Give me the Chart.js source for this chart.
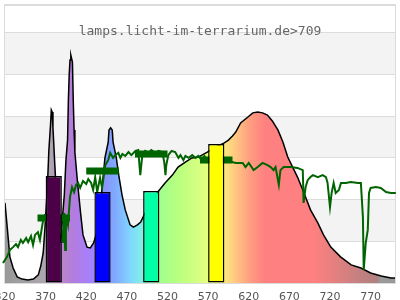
<!DOCTYPE html>
<html>
<head>
<meta charset="utf-8">
<script src="https://cdn.jsdelivr.net/npm/chart.js@4"></script>
<style>
  html, body { margin: 0; padding: 0; background: #fff; }
  canvas { display: block; }
</style>
</head>
<body>
<canvas id="chart" width="400" height="300"></canvas>
<script>
// --- lamp spectrum (black curve) ---
const specNm = [320, 326, 330, 335, 341, 348, 355, 361, 364, 367, 369, 372, 374, 376, 377, 378, 379, 381, 382,
  385, 388, 390, 393, 395, 397, 398, 399, 400, 401, 403, 404, 405, 406, 409, 413, 416, 421, 425, 429,
  434, 438, 443, 447, 448, 450, 452, 453, 457, 460, 464, 468, 474, 478, 483, 487, 493, 501, 509, 517,
  526, 533, 542, 550, 558, 569, 579, 590, 595, 600, 604, 610, 619, 625, 631, 637, 643, 649, 656, 662,
  668, 680, 688, 696, 705, 712, 721, 733, 746, 758, 770, 783, 795, 800];
const specVal = [28.8, 9.4, 5.4, 2.2, 1.4, 1.1, 1.4, 2.9, 6.1, 10.8, 19.1, 33.5, 47.8, 56.8, 62.2, 61.5, 56.1, 44.2, 38.8,
  19.1, 15.5, 20.9, 31.7, 44.2, 51.4, 65.8, 74.8, 80.2, 82.0, 79.5, 65.8, 55.0, 47.1, 37.0, 25.2, 17.3, 12.9, 12.6, 14.4,
  19.1, 29.9, 45.0, 50.7, 55.0, 55.8, 55.0, 50.7, 45.0, 38.8, 31.7, 26.3, 20.9, 20.1, 20.9, 21.9, 25.5, 29.9, 33.1, 36.0,
  38.8, 41.7, 43.5, 45.0, 45.3, 47.1, 48.9, 50.4, 51.4, 52.9, 54.3, 57.6, 59.7, 61.2, 61.5, 61.2, 60.4, 58.3, 55.0, 50.7,
  45.3, 38.1, 32.4, 26.3, 21.6, 17.3, 12.9, 9.4, 6.5, 5.4, 3.6, 2.5, 1.8, 1.8];

// --- daylight reference (green line) ---
const sunNm = [314, 317.5, 322.5, 326, 330, 333.5, 336, 339.5, 342, 346, 348.5, 352, 354.5, 357, 360.5, 363, 365.5, 367, 369,
  380, 388, 391.5, 393, 394, 395, 397.5, 400, 402.5, 405, 407.5, 410, 412.5, 416, 420, 422.5, 426, 428.5, 431, 433.5, 437,
  439.5, 443.5, 447, 449.5, 453, 455.5, 459.5, 462, 464.5, 468, 472, 475.5, 480.5, 484, 486.5, 489, 492.5, 496.5, 500,
  505, 509, 513.5, 516, 517.5, 518.5, 521, 525, 529.5, 533.5, 536, 539.5, 542, 546, 550.5, 554.5, 558, 562, 565.5, 569,
  590, 595, 604, 612.5, 616, 620, 626, 631, 637, 643, 647, 650.5, 653, 657, 659, 663, 671.5, 680, 686.5, 687.5, 690, 692.5,
  696, 699, 705, 711, 715, 717, 720, 722, 724.5, 727, 731, 733.5, 739.5, 745.5, 754.5, 758, 760.5, 761.5, 764, 766.5, 768,
  770, 776.5, 782.5, 789, 795, 801, 807];
const sunVal = [4.0, 7.2, 9.4, 11.9, 12.9, 14.0, 12.9, 15.5, 14.4, 16.2, 14.7, 16.9, 13.7, 17.3, 18.3, 15.5, 20.1, 22.7, 24.5,
  24.5, 22.7, 14.4, 25.2, 11.9, 24.5, 20.9, 30.9, 34.5, 32.7, 35.3, 36.0, 34.2, 36.7, 35.6, 37.4, 36.0, 33.5, 38.1, 32.7, 37.8,
  34.2, 42.4, 44.2, 46.8, 45.0, 46.0, 46.8, 45.0, 46.4, 45.7, 47.1, 46.0, 47.5, 47.8, 38.8, 46.0, 47.5, 46.8, 47.8,
  46.8, 47.5, 47.1, 43.5, 38.8, 42.4, 46.0, 47.5, 47.1, 45.0, 46.0, 44.2, 45.7, 45.0, 46.0, 45.0, 45.7, 44.2, 45.7, 43.5,
  44.2, 43.9, 43.2, 43.2, 41.7, 43.2, 40.6, 41.7, 43.2, 42.4, 41.7, 40.6, 41.7, 35.3, 40.6, 41.7, 41.7, 41.4, 40.6, 28.8, 34.5, 37.0,
  38.1, 38.8, 38.1, 38.8, 38.1, 36.0, 27.3, 32.4, 36.0, 32.4, 33.5, 36.0, 36.0, 36.3, 36.0, 36.0, 23.7, 4.7, 14.4, 19.1, 32.4,
  34.2, 34.5, 34.2, 32.7, 32.4, 32.4, 30.9];

// --- daylight band averages (thick green dashes) ---
const bandFrom = [360, 420, 480, 560];
const bandTo = [400, 460, 520, 600];
const bandVal = [23.4, 40.3, 46.4, 44.2];

// --- lamp band bars ---
const barNm = [380, 440, 500, 580];
const barVal = [38.5, 32.7, 33.1, 50.0];
const barColors = ["#4b0048", "#0000ff", "#00ffa6", "#ffff00"];

const xTicks = [320, 370, 420, 470, 520, 570, 620, 670, 720, 770];
const titleText = "lamps.licht-im-terrarium.de>709";

// gradient under the spectrum
const gradNm = [320, 375, 392, 405, 425, 440, 455, 475, 490, 510, 530, 560, 580, 600, 620, 640, 700, 730, 760, 778, 782, 800];
const gradColor = ["#999999", "#aea8b0", "#b884cc", "#b27ce0", "#a680ff", "#8c90ff", "#80a8ff", "#80d8ff", "#80f0e0",
  "#a0ff90", "#b4ff80", "#d8ff80", "#f4ff80", "#ffd080", "#ffa080", "#ff8080", "#ff8080", "#e08080", "#c08080",
  "#b08080", "#9a9a9a", "#999999"];

const toPoints = (xs, ys) => xs.map((x, i) => ({ x: x, y: ys[i] }));

const bandPoints = [];
bandFrom.forEach((f, i) => {
  bandPoints.push({ x: f, y: bandVal[i] }, { x: bandTo[i], y: bandVal[i] }, { x: bandTo[i], y: null });
});

function spectrumFill(context) {
  const chart = context.chart;
  if (!chart.chartArea) return "#aaa";
  const x = chart.scales.x;
  const x0 = x.getPixelForValue(gradNm[0]);
  const x1 = x.getPixelForValue(gradNm[gradNm.length - 1]);
  const g = chart.ctx.createLinearGradient(x0, 0, x1, 0);
  const span = gradNm[gradNm.length - 1] - gradNm[0];
  gradNm.forEach((nm, i) => g.addColorStop((nm - gradNm[0]) / span, gradColor[i]));
  return g;
}

const backdrop = {
  id: "backdrop",
  beforeDraw(chart) {
    const { ctx, chartArea, scales } = chart;
    const ticks = scales.y.ticks;
    ctx.save();
    ctx.fillStyle = "#f3f3f3";
    for (let i = 1; i < ticks.length - 1; i += 2) {
      const top = scales.y.getPixelForValue(ticks[i + 1].value);
      const bottom = scales.y.getPixelForValue(ticks[i].value);
      ctx.fillRect(chartArea.left, top, chartArea.right - chartArea.left, bottom - top);
    }
    ctx.restore();
  },
  beforeDatasetsDraw(chart) {
    const { ctx, chartArea } = chart;
    ctx.save();
    ctx.strokeStyle = "#dcdcdc";
    ctx.lineWidth = 1;
    ctx.strokeRect(Math.round(chartArea.left) - 0.5, Math.round(chartArea.top) - 0.5,
      Math.round(chartArea.right - chartArea.left) + 1, Math.round(chartArea.bottom - chartArea.top) + 1);
    ctx.fillStyle = "#666";
    ctx.font = '13px "DejaVu Sans Mono"';
    ctx.textAlign = "center";
    ctx.textBaseline = "alphabetic";
    ctx.fillText(titleText, chart.width / 2, chartArea.top + 30);
    ctx.restore();
  }
};

new Chart(document.getElementById("chart"), {
  data: {
    datasets: [
      {
        type: "bar",
        data: toPoints(barNm, barVal),
        backgroundColor: barColors,
        borderColor: "#000",
        borderWidth: 1.5,
        borderSkipped: false,
        // tick gap is 50 nm, bars are 20 nm wide
        categoryPercentage: 0.4,
        barPercentage: 1,
        order: 0
      },
      {
        type: "line",
        data: bandPoints,
        borderColor: "#006400",
        borderWidth: 7,
        borderCapStyle: "butt",
        pointRadius: 0,
        spanGaps: false,
        order: 1
      },
      {
        type: "line",
        data: toPoints(sunNm, sunVal),
        borderColor: "#006400",
        borderWidth: 2,
        pointRadius: 0,
        tension: 0,
        clip: false,
        order: 2
      },
      {
        type: "line",
        data: toPoints(specNm, specVal),
        borderColor: "#000",
        borderWidth: 1.5,
        backgroundColor: spectrumFill,
        fill: "origin",
        pointRadius: 0,
        tension: 0,
        order: 3
      }
    ]
  },
  options: {
    responsive: false,
    animation: false,
    devicePixelRatio: 1,
    layout: { padding: { left: 5, right: 5, top: 5, bottom: 0 } },
    plugins: { legend: { display: false }, tooltip: { enabled: false } },
    scales: {
      x: {
        type: "linear",
        min: 320,
        max: 800,
        offset: false,
        grid: { display: false, drawTicks: false, offset: false },
        border: { display: false },
        ticks: { color: "#555", font: { family: "DejaVu Sans", size: 11 }, padding: 8, maxRotation: 0, autoSkip: false },
        afterBuildTicks: (scale) => { scale.ticks = xTicks.map(v => ({ value: v })); },
        afterFit: (scale) => { scale.paddingLeft = 0; scale.paddingRight = 0; scale.height = 17; }
      },
      y: {
        min: 0,
        max: 100,
        ticks: { display: false, stepSize: 15 },
        grid: { color: "#dcdcdc", drawTicks: false },
        border: { display: false },
        afterFit: (scale) => { scale.width = 0; }
      }
    }
  },
  plugins: [backdrop]
});
</script>
</body>
</html>
